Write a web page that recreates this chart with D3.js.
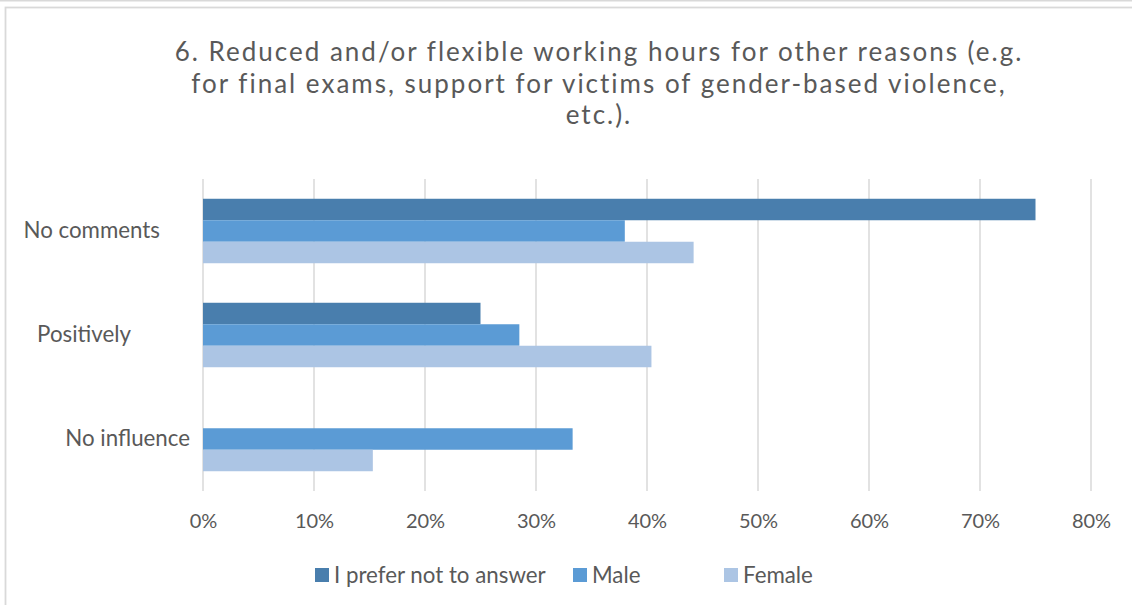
<!DOCTYPE html>
<html><head><meta charset="utf-8">
<script src="https://cdn.jsdelivr.net/npm/d3@7"></script>
<style>body{margin:0;background:#fff}svg{display:block}text{font-family:Lato,"Open Sans",sans-serif;fill:#595959}</style>
</head><body>
<script>
const titleLines = ["6. Reduced and/or flexible working hours for other reasons (e.g.", "for final exams, support for victims of gender-based violence,", "etc.)."];
const categories = ["No comments", "Positively", "No influence"];
const seriesNames = ["I prefer not to answer", "Male", "Female"];
const preferNot = [75, 25, 0];
const male = [38.0, 28.5, 33.3];
const female = [44.2, 40.4, 15.3];
const xTicks = [0, 10, 20, 30, 40, 50, 60, 70, 80];
const colors = ["#497EAD", "#5B9BD5", "#ACC5E4"];

const W = 1132, H = 605;
const svg = d3.select("body").append("svg").attr("width", W).attr("height", H);
svg.append("line").attr("x1", 0).attr("x2", W).attr("y1", 0.75).attr("y2", 0.75)
  .attr("stroke", "#d9d9d9").attr("stroke-width", 1.5);
svg.append("rect").attr("x", 5.5).attr("y", 7.5).attr("width", 1140).attr("height", 610)
  .attr("fill", "#fff").attr("stroke", "#d9d9d9").attr("stroke-width", 1.8);

const x = d3.scaleLinear().domain([0, 80]).range([203, 1091]);
const y0 = d3.scaleBand().domain(categories).range([179, 491]).paddingInner(0.38).paddingOuter(0.19);
const y1 = d3.scaleBand().domain(seriesNames).range([0, y0.bandwidth()]);

// gridlines
svg.append("g").selectAll("line").data(xTicks).join("line")
  .attr("x1", d => x(d)).attr("x2", d => x(d)).attr("y1", 179).attr("y2", 491)
  .attr("stroke", "#d9d9d9").attr("stroke-width", 1.5);

const seriesVals = [preferNot, male, female];
const bars = [];
seriesNames.forEach((s, si) => categories.forEach((c, ci) => bars.push({s, c, v: seriesVals[si][ci], si})));
svg.append("g").selectAll("rect").data(bars.filter(b => b.v > 0)).join("rect")
  .attr("x", x(0)).attr("y", d => y0(d.c) + y1(d.s)).attr("height", y1.bandwidth())
  .attr("width", d => x(d.v) - x(0)).attr("fill", d => colors[d.si]);

// axis labels
const xAxis = d3.axisBottom(x).tickValues(xTicks).tickFormat(d => d + "%").tickSize(0).tickPadding(0);
const gx = svg.append("g").attr("transform", "translate(0,514)").call(xAxis);
gx.select(".domain").remove();
gx.selectAll("text").attr("font-size", 20).style("font-family", "Lato,sans-serif").attr("fill", "#595959").attr("dy", "0.71em");

// category labels (Excel-style irregular right edges)
const labelRightOffsets = [43, 72, 13];
const yAxis = d3.axisLeft(y0).tickSize(0).tickPadding(0);
const gy = svg.append("g").attr("transform", "translate(203,0)").call(yAxis);
gy.select(".domain").remove();
gy.selectAll("text").attr("font-size", 22.3).style("font-family", "Lato,sans-serif").attr("fill", "#595959")
  .attr("text-anchor", "end").attr("x", (d, i) => -labelRightOffsets[i]);

// title
svg.append("g").selectAll("text").data(titleLines).join("text")
  .attr("x", 599).attr("y", (d, i) => 61 + i * 31.5).attr("text-anchor", "middle")
  .attr("font-size", 26).attr("letter-spacing", 2.0).text(d => d);

// legend
const legendX = [315, 573, 724];
const lg = svg.append("g").selectAll("g").data(seriesNames).join("g")
  .attr("transform", (d, i) => `translate(${legendX[i]},568)`);
lg.append("rect").attr("width", 14).attr("height", 14).attr("fill", (d, i) => colors[i]);
lg.append("text").attr("x", 19).attr("y", 15).attr("font-size", 22.3).text(d => d);
</script>
</body></html>
